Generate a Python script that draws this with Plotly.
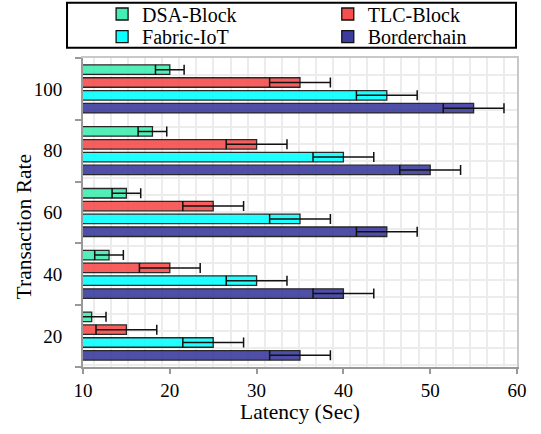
import plotly.graph_objects as go

# ---- data ----
rates = ["20", "40", "60", "80", "100"]
dsa_block = [11, 13, 15, 18, 20]
dsa_err = [1.65, 1.65, 1.65, 1.65, 1.65]
tlc_block = [15, 20, 25, 30, 35]
tlc_err = [3.5, 3.5, 3.5, 3.5, 3.5]
fabric_iot = [25, 30, 35, 40, 45]
fabric_err = [3.5, 3.5, 3.5, 3.5, 3.5]
borderchain = [35, 40, 45, 50, 55]
border_err = [3.5, 3.5, 3.5, 3.5, 3.5]
x_ticks = [10, 20, 30, 40, 50, 60]

FONT = "Liberation Serif"
series = [
    # name, values, errors, colour, legend id, legend x (paper), legend y (paper)
    ("Borderchain", borderchain, border_err, "#3C3C9E", "legend4", 0.564, 1.069),
    ("Fabric-IoT", fabric_iot, fabric_err, "#07FFFF", "legend3", 0.044, 1.069),
    ("TLC-Block", tlc_block, tlc_err, "#F74E4E", "legend2", 0.564, 1.1424),
    ("DSA-Block", dsa_block, dsa_err, "#42EEB2", "legend", 0.044, 1.1424),
]

fig = go.Figure()
legends = {}
for name, vals, errs, col, lg, lx, ly in series:
    fig.add_trace(go.Bar(
        name=name, y=rates, x=vals, orientation="h",
        marker=dict(color=col, opacity=0.9, line=dict(color="#111111", width=1.3)),
        error_x=dict(type="data", array=errs, symmetric=True, color="#111111",
                     thickness=1.5, width=5),
        legend=lg, showlegend=True,
    ))
    legends[lg] = dict(x=lx, y=ly, xanchor="left", yanchor="middle",
                       bgcolor="rgba(0,0,0,0)", borderwidth=0,
                       font=dict(family=FONT, size=20, color="black"))

# dummy trace for the square background grid
fig.add_trace(go.Scatter(x=[None], y=[None], xaxis="x2", yaxis="y2",
                         showlegend=False, hoverinfo="skip"))

fig.update_layout(
    width=541, height=434,
    margin=dict(l=83, r=24, t=58, b=67, autoexpand=False),
    paper_bgcolor="white", plot_bgcolor="white",
    barmode="group", bargap=0.17, bargroupgap=0.26,
    font=dict(family=FONT, size=19, color="black"),
    xaxis=dict(range=[10, 60], tickvals=x_ticks, showgrid=False, zeroline=False,
               showline=True, linecolor="#999999", linewidth=2,
               ticks="outside", ticklen=5, tickcolor="#999999", tickwidth=1.5,
               tickfont=dict(size=19), ticklabelstandoff=0),
    yaxis=dict(type="category", showgrid=False, zeroline=False,
               showline=True, linecolor="#999999", linewidth=2,
               ticks="outside", ticklen=6, tickcolor="#999999", tickwidth=1.5,
               tickson="boundaries", tickfont=dict(size=19), ticklabelstandoff=15),
    xaxis2=dict(overlaying="x", anchor="y", side="top", range=[-0.632, 24.76],
                dtick=1, tick0=0, showgrid=True, gridcolor="#ececec", gridwidth=2,
                showticklabels=False, ticks="", zeroline=False,
                showline=True, linecolor="#c8c8c8", linewidth=2),
    yaxis2=dict(overlaying="y", anchor="x", side="right", range=[-0.105, 18.025],
                dtick=1, tick0=0, showgrid=True, gridcolor="#ececec", gridwidth=2,
                showticklabels=False, ticks="", zeroline=False,
                showline=True, linecolor="#c8c8c8", linewidth=2),
    showlegend=True,
    **legends,
    annotations=[
        dict(text="Latency (Sec)", xref="paper", yref="paper", x=0.5, y=-0.147,
             xanchor="center", yanchor="middle", showarrow=False,
             font=dict(family=FONT, size=21.5, color="black")),
        dict(text="Transaction Rate", xref="paper", yref="paper", x=-0.136, y=0.455,
             xanchor="center", yanchor="middle", textangle=-90, showarrow=False,
             font=dict(family=FONT, size=21.5, color="black")),
    ],
    shapes=[
        dict(type="rect", xref="paper", yref="paper",
             x0=(67 - 83) / 434, x1=(516 - 83) / 434,
             y0=(367 - 47.7) / 309, y1=(367 - 2.7) / 309,
             line=dict(color="black", width=2), fillcolor="rgba(0,0,0,0)"),
    ],
)

fig.write_html("out.html", config={"displayModeBar": False},
               post_script="document.body.style.margin='0px';")
